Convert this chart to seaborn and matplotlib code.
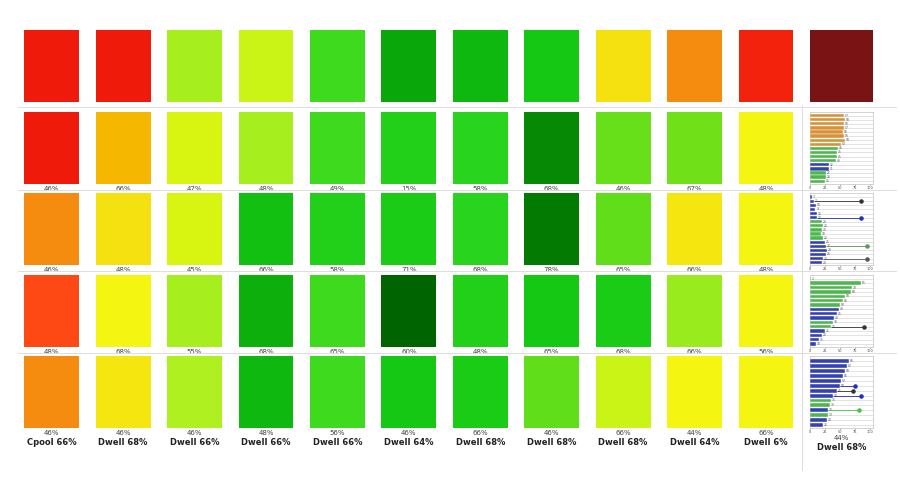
import numpy as np
import pandas as pd
import matplotlib
matplotlib.use('Agg')
from matplotlib import pyplot as plt
from matplotlib.colors import LinearSegmentedColormap
from matplotlib.lines import Line2D
import seaborn as sb

# cell scores (0 = red ... 1 = dark green, -1 = summary cell)
row1_scores = [0.00, 0.00, 0.57, 0.52, 0.68, 0.86, 0.82, 0.78, 0.38, 0.22, 0.02, -1]
row2_scores = [0.00, 0.30, 0.50, 0.57, 0.68, 0.74, 0.72, 0.92, 0.63, 0.62, 0.45]
row3_scores = [0.22, 0.38, 0.50, 0.80, 0.74, 0.76, 0.72, 0.95, 0.64, 0.40, 0.45]
row4_scores = [0.12, 0.45, 0.57, 0.84, 0.68, 1.00, 0.74, 0.78, 0.76, 0.58, 0.45]
row5_scores = [0.22, 0.40, 0.56, 0.82, 0.68, 0.78, 0.76, 0.64, 0.52, 0.45, 0.45]

row2_labels = ['46%', '66%', '47%', '48%', '49%', '15%', '58%', '68%', '46%', '67%', '48%']
row3_labels = ['46%', '48%', '45%', '66%', '58%', '71%', '68%', '78%', '65%', '66%', '48%']
row4_labels = ['48%', '68%', '55%', '68%', '65%', '60%', '48%', '65%', '68%', '66%', '56%']
row5_labels = ['46%', '46%', '46%', '48%', '56%', '46%', '66%', '46%', '66%', '44%', '66%', '44%']
bottom_labels = ['Cpool 66%', 'Dwell 68%', 'Dwell 66%', 'Dwell 66%', 'Dwell 66%', 'Dwell 64%',
                 'Dwell 68%', 'Dwell 68%', 'Dwell 68%', 'Dwell 64%', 'Dwell 6%', 'Dwell 68%']

# mini bar charts in the last column (rows 2-5)
mini2_values = [57, 58, 56, 57, 55, 56, 58, 52, 46, 45, 45, 43, 32, 31, 27, 26, 25]
mini2_groups = ['o'] * 8 + ['g'] * 4 + ['b'] * 2 + ['g'] * 3
mini2_dots = []
mini3_values = [3, 7, 10, 9, 12, 12, 20, 22, 20, 18, 22, 25, 27, 28, 26, 22, 20]
mini3_groups = ['b'] * 6 + ['g'] * 5 + ['b'] * 6
mini3_dots = [(1, 85, '#333333'), (5, 85, '#1f2fc0'), (12, 95, '#5a9a5a'), (15, 95, '#555555')]
mini4_values = [2, 85, 70, 68, 58, 55, 50, 48, 45, 40, 38, 35, 25, 20, 15, 10]
mini4_groups = ['g'] * 7 + ['b'] * 3 + ['g'] * 2 + ['b'] * 4
mini4_dots = [(11, 90, '#333333')]
mini5_values = [65, 62, 58, 55, 52, 50, 45, 38, 35, 33, 30, 30, 28, 22]
mini5_groups = ['b'] * 8 + ['g'] * 2 + ['b', 'g', 'b', 'b']
mini5_dots = [(5, 75, '#1f2fc0'), (6, 72, '#333333'), (7, 85, '#1f2fc0'), (10, 82, '#3cc83c')]

group_colors = {'o': '#f0961e', 'g': '#3cc83c', 'b': '#1f2fc8'}

cmap = LinearSegmentedColormap.from_list('score', [
    (0.00, '#f01a0a'), (0.12, '#ff4a14'), (0.22, '#f58c10'), (0.30, '#f5b800'),
    (0.38, '#f5e010'), (0.45, '#f5f510'), (0.50, '#d8f510'), (0.56, '#b0f020'),
    (0.62, '#70e018'), (0.70, '#30d820'), (0.78, '#14c814'), (0.86, '#0aa80a'),
    (1.00, '#006400')])
cmap.set_under('#7a1414')

scores = [row1_scores, row2_scores, row3_scores, row4_scores, row5_scores]
labels = [None, row2_labels, row3_labels, row4_labels, row5_labels]
minis = [None, (mini2_values, mini2_groups, mini2_dots), (mini3_values, mini3_groups, mini3_dots),
         (mini4_values, mini4_groups, mini4_dots), (mini5_values, mini5_groups, mini5_dots)]

fig = plt.figure(figsize=(9, 4.8), dpi=100)
gs = fig.add_gridspec(5, 12, left=0.027, right=0.97, top=0.9375, bottom=0.108,
                      wspace=0.30, hspace=0.13, width_ratios=[1] * 11 + [1.15])


def mini_chart(ax, values, groups, dots):
    df = pd.DataFrame({'row': ['r%d' % i for i in range(len(values))],
                       'value': values, 'grp': groups})
    pal = {r: group_colors[g] for r, g in zip(df.row, df.grp)}
    sb.barplot(data=df, x='value', y='row', hue='row', palette=pal, legend=False,
               orient='h', width=0.8, edgecolor='white', linewidth=0.3, ax=ax, zorder=3)
    for i, v in enumerate(values):
        ax.text(v + 1.5, i, str(v), fontsize=2.2, va='center', color='#555555', zorder=4)
    for i, x, c in dots:
        ax.hlines(i, values[i], x, color=c, lw=0.6, zorder=4)
        ax.scatter([x], [i], s=5, color=c, zorder=5)
    ax.set_xlim(0, 105)
    ax.set_xticks([0, 25, 50, 75, 100])
    ax.set_xticklabels(['0', '25', '50', '75', '100'], fontsize=2.5, color='#444444')
    ax.tick_params(axis='x', length=1, pad=0.5, width=0.4)
    ax.set_yticks(range(len(values)))
    ax.set_yticklabels([])
    ax.tick_params(axis='y', length=0)
    ax.set_ylim(len(values) - 0.4, -1)
    ax.yaxis.grid(True, color='#d8d8d8', lw=0.5)
    ax.set_axisbelow(True)
    ax.set_xlabel('')
    ax.set_ylabel('')
    for s in ax.spines.values():
        s.set_color('#cccccc')
        s.set_linewidth(0.6)


for r in range(5):
    for c in range(12):
        ax = fig.add_subplot(gs[r, c])
        if c == 11 and r > 0:
            mini_chart(ax, *minis[r])
        else:
            sb.heatmap(np.array([[scores[r][c]]]), cmap=cmap, vmin=0, vmax=1, cbar=False,
                       ax=ax, xticklabels=False, yticklabels=False)
        if labels[r] is not None and (c < 11 or r == 4):
            yoff = -0.14 if c == 11 else -0.07
            ax.text(0.5, yoff, labels[r][c], transform=ax.transAxes, ha='center', va='center',
                    fontsize=5, color='#444444')
        if r == 4:
            yoff = -0.27 if c == 11 else -0.20
            ax.text(0.5, yoff, bottom_labels[c], transform=ax.transAxes, ha='center',
                    va='center', fontsize=6, fontweight='bold', color='#222222')

# faint separators
for y in [1 - 107 / 480, 1 - 190 / 480, 1 - 271 / 480, 1 - 353 / 480]:
    fig.add_artist(Line2D([0.02, 0.995], [y, y], transform=fig.transFigure,
                          color='#dddddd', lw=0.7))
fig.add_artist(Line2D([0.891, 0.891], [1 - 105 / 480, 1 - 470 / 480],
                      transform=fig.transFigure, color='#dddddd', lw=0.7))

plt.savefig('out.png', format='png', dpi=100, facecolor='white')
plt.close()
